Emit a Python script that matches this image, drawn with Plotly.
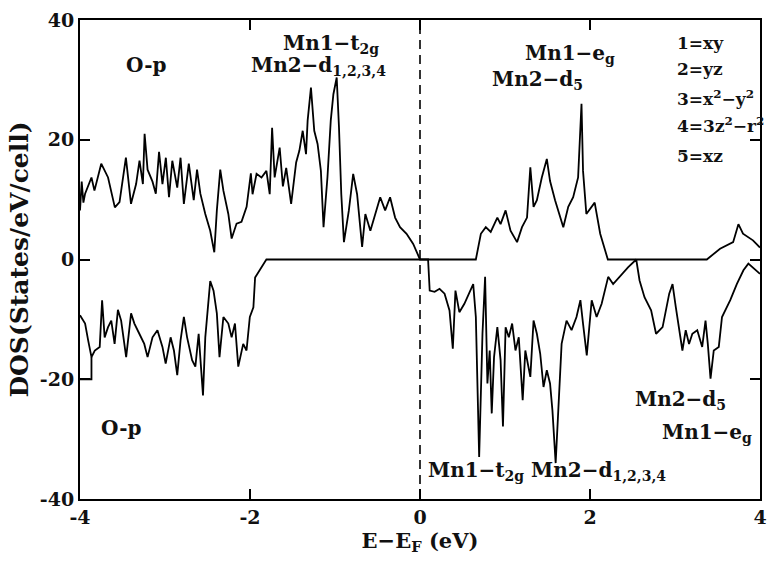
import plotly.graph_objects as go

# Spin-up DOS (positive)
up_x = [-4.00, -3.98, -3.96, -3.94, -3.865, -3.83, -3.75, -3.67, -3.59, -3.535, -3.46, -3.42, -3.40,
        -3.34, -3.30, -3.26, -3.24, -3.205, -3.147, -3.108, -3.07, -3.03, -2.99, -2.953, -2.914,
        -2.856, -2.817, -2.778, -2.72, -2.662, -2.623, -2.584, -2.526, -2.468, -2.42, -2.39, -2.35,
        -2.313, -2.255, -2.216, -2.158, -2.10, -2.04, -1.99, -1.97, -1.923, -1.865, -1.807, -1.768,
        -1.74, -1.71, -1.651, -1.613, -1.574, -1.516, -1.457, -1.419, -1.38, -1.341, -1.322, -1.283,
        -1.244, -1.205, -1.166, -1.135, -1.089, -1.05, -1.019, -0.98, -0.953, -0.926, -0.895,
        -0.837, -0.786, -0.74, -0.681, -0.643, -0.584, -0.526, -0.468, -0.41, -0.352, -0.293,
        -0.235, -0.158, -0.08, 0.0, 0.657, 0.716, 0.774, 0.832, 0.91, 0.948, 1.007, 1.065, 1.142,
        1.2, 1.259, 1.298, 1.336, 1.375, 1.433, 1.492, 1.53, 1.589, 1.647, 1.686, 1.744, 1.802,
        1.86, 1.90, 1.918, 1.957, 2.055, 2.12, 2.21, 3.374, 3.53, 3.684, 3.746, 3.80, 3.917, 4.0]
up_y = [8.2, 13.0, 9.5, 11.0, 13.7, 11.5, 16.0, 13.7, 8.7, 9.6, 17.0, 12.0, 9.3,
        12.6, 16.5, 12.6, 21.0, 15.0, 13.0, 11.0, 18.0, 12.6, 17.0, 10.4, 16.5,
        12.0, 17.0, 9.3, 16.0, 9.9, 15.0, 11.0, 7.6, 4.8, 1.2, 8.2, 15.0,
        11.5, 7.6, 3.5, 6.0, 6.3, 8.8, 14.4, 10.9, 14.3, 13.7, 14.8, 10.9,
        22.0, 13.7, 18.7, 12.2, 15.3, 9.3, 16.2, 18.2, 21.5, 17.6, 23.2, 28.7,
        21.5, 19.3, 14.8, 5.4, 13.7, 23.2, 27.6, 30.4, 22.0, 10.9, 2.9,
        8.2, 14.3, 10.9, 2.1, 7.6, 4.8, 7.6, 10.4, 8.2, 10.4, 7.0,
        5.4, 4.3, 2.6, 0.0, 0.0, 4.3, 5.4, 4.6, 7.0, 5.9, 8.2, 4.8, 2.9,
        5.4, 7.0, 15.4, 8.8, 9.9, 13.7, 16.8, 13.1, 9.9, 7.0, 5.4, 8.8, 10.4,
        13.7, 26.0, 14.8, 7.6, 9.5, 4.3, 0.0, 0.0, 1.8, 2.9, 5.9, 4.3, 3.2, 2.0]

# Spin-down DOS (negative)
dn_x = [-4.00, -3.94, -3.904, -3.865, -3.826, -3.768, -3.74, -3.71, -3.67, -3.632, -3.593, -3.554,
        -3.516, -3.457, -3.399, -3.36, -3.302, -3.244, -3.205, -3.147, -3.089, -3.03, -2.992,
        -2.934, -2.895, -2.856, -2.817, -2.778, -2.74, -2.681, -2.643, -2.604, -2.577, -2.553,
        -2.526, -2.468, -2.429, -2.39, -2.359, -2.313, -2.255, -2.216, -2.177, -2.138, -2.08,
        -2.041, -2.002, -1.96, -1.94, -1.884, -1.826, -1.807, 0.095, 0.114, 0.172, 0.23, 0.289,
        0.347, 0.386, 0.417, 0.463, 0.522, 0.58, 0.626, 0.657, 0.696, 0.735, 0.766, 0.793, 0.82,
        0.844, 0.871, 0.91, 0.948, 0.976, 1.007, 1.045, 1.084, 1.123, 1.162, 1.208, 1.239, 1.298,
        1.336, 1.375, 1.414, 1.453, 1.492, 1.53, 1.558, 1.596, 1.627, 1.666, 1.724, 1.783, 1.841,
        1.887, 1.918, 1.962, 2.02, 2.078, 2.137, 2.214, 2.272, 2.35, 2.447, 2.544, 2.583, 2.641,
        2.719, 2.777, 2.854, 2.932, 2.971, 3.01, 3.048, 3.087, 3.126, 3.165, 3.204, 3.262, 3.32,
        3.359, 3.386, 3.418, 3.456, 3.515, 3.553, 3.592, 3.65, 3.727, 3.805, 3.863, 3.94, 4.0]
dn_y = [-9.3, -10.7, -13.5, -16.3, -15.2, -14.6, -6.8, -13.0, -11.3, -10.2, -14.1, -8.4,
        -10.2, -16.3, -9.0, -10.7, -12.4, -14.1, -16.3, -13.0, -11.8, -14.6, -17.4,
        -13.0, -15.2, -19.3, -13.5, -9.6, -13.0, -16.8, -17.9, -12.4, -17.9, -22.7,
        -13.0, -3.6, -5.2, -9.0, -16.3, -9.6, -10.7, -13.0, -10.7, -17.9, -14.1,
        -15.2, -9.6, -8.0, -3.0, -1.6, -0.4, 0.0, 0.0, -5.2, -5.4, -4.9, -5.7,
        -8.5, -14.9, -5.2, -8.8, -7.4, -5.7, -4.1, -9.6, -33.0, -12.4, -2.9, -20.7, -15.2,
        -25.7, -16.3, -11.3, -16.8, -27.9, -11.3, -13.0, -10.7, -15.2, -13.0, -23.5, -15.2, -19.6,
        -10.2, -12.4, -15.7, -21.3, -18.5, -20.7, -25.2, -34.0, -24.0, -14.1, -10.2, -11.8, -9.6,
        -6.8, -10.7, -16.0, -6.8, -9.6, -7.4, -2.9, -4.1, -2.9, -1.3, 0.0, -3.5, -6.3,
        -8.5, -12.4, -11.3, -5.7, -4.1, -8.0, -11.3, -15.2, -11.8, -14.1, -12.4, -11.8, -14.6,
        -10.2, -14.1, -19.9, -15.2, -14.6, -9.6, -8.5, -6.8, -4.1, -1.8, -0.7, -1.6, -2.4]

# small edge segment at the start of the spin-down curve
edge_x = [-4.00, -3.865, -3.865]
edge_y = [-20.0, -20.0, -16.3]

x_ticks = [-4, -2, 0, 2, 4]
x_ticktext = ["-4", "-2", "0", "2", "4"]
y_ticks = [-40, -20, 0, 20, 40]
y_ticktext = ["-40", "-20", "0", "20", "40"]

FONT = "DejaVu Serif"
INK = "#111"
line_style = dict(color="black", width=1.8)

fig = go.Figure()
fig.add_trace(go.Scatter(x=up_x, y=up_y, mode="lines", line=line_style, showlegend=False))
fig.add_trace(go.Scatter(x=dn_x, y=dn_y, mode="lines", line=line_style, showlegend=False))
fig.add_trace(go.Scatter(x=edge_x, y=edge_y, mode="lines", line=line_style, showlegend=False))
fig.add_trace(go.Scatter(x=[0, 0], y=[-40, 40], mode="lines",
                         line=dict(color="black", width=1.6, dash="9px,6px"), showlegend=False))

def ann(x, y, text, xanchor="center", size=20):
    fig.add_annotation(x=x, y=y, xref="x", yref="y", text="<b>" + text + "</b>",
                       showarrow=False, xanchor=xanchor, yanchor="middle",
                       font=dict(family=FONT, size=size, color=INK))

ann(-3.22, 32.5, "O-p")
ann(-1.05, 36.0, "Mn1−t<sub>2g</sub>")
ann(-1.19, 32.3, "Mn2−d<sub>1,2,3,4</sub>")
ann(1.76, 34.3, "Mn1−e<sub>g</sub>")
ann(1.38, 30.0, "Mn2−d<sub>5</sub>")
ann(-3.52, -28.2, "O-p")
ann(3.07, -23.5, "Mn2−d<sub>5</sub>")
ann(3.38, -29.0, "Mn1−e<sub>g</sub>")
ann(0.07, -35.3, "Mn1−t<sub>2g</sub> Mn2−d<sub>1,2,3,4</sub>", xanchor="left")

leg_lines = ["1=xy", "2=yz", "3=x<sup>2</sup>−y<sup>2</sup>", "4=3z<sup>2</sup>−r<sup>2</sup>", "5=xz"]
leg_y = [36.2, 31.8, 27.0, 22.4, 17.3]
for t, yy in zip(leg_lines, leg_y):
    ann(3.0, yy, t, xanchor="left", size=17)

axis_common = dict(showline=True, linecolor="black", linewidth=2, mirror="ticks",
                   ticks="inside", ticklen=10, tickwidth=2, tickcolor="black",
                   showgrid=False, zeroline=False,
                   tickfont=dict(family=FONT, size=19, color=INK))

fig.update_layout(
    width=776, height=572,
    margin=dict(l=80, r=9, t=19, b=73),
    paper_bgcolor="white", plot_bgcolor="white",
    xaxis=dict(range=[-4, 4], tickvals=x_ticks, ticktext=[f"<b>{t}</b>" for t in x_ticktext],
               title=dict(text="<b>E−E<sub>F</sub> (eV)</b>", font=dict(family=FONT, size=21, color=INK),
                          standoff=6),
               **axis_common),
    yaxis=dict(range=[-40, 40], tickvals=y_ticks, ticktext=[f"<b>{t}</b>" for t in y_ticktext],
               title=dict(text="<b>DOS(States/eV/cell)</b>", font=dict(family=FONT, size=25, color=INK),
                          standoff=4),
               **axis_common),
)

fig.write_html("out.html")
